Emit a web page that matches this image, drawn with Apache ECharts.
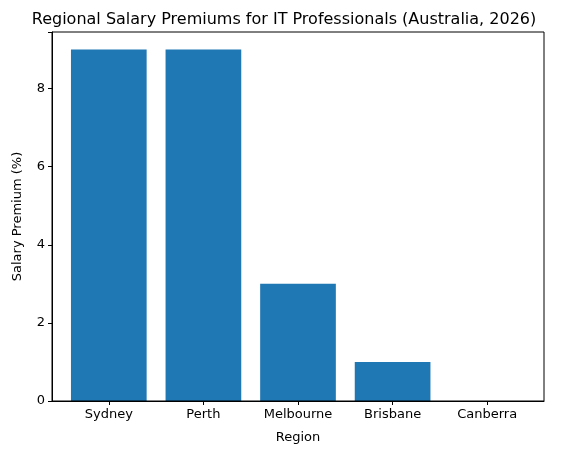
<!DOCTYPE html><html><head><meta charset="utf-8"><script src="https://cdn.jsdelivr.net/npm/echarts@6/dist/echarts.min.js"></script></head><body style="margin:0"><div id="c" style="width:568px;height:455px"></div><script>
const categories=['Sydney','Perth','Melbourne','Brisbane','Canberra'];
const values=[9,9,3,1,0];
const yTicks=[0,2,4,6,8];
const F='DejaVu Sans';
const ch=echarts.init(document.getElementById('c'));
ch.setOption({animation:false,
title:{text:'Regional Salary Premiums for IT Professionals (Australia, 2026)',left:'center',top:7,textStyle:{fontFamily:F,fontSize:16,fontWeight:'normal',color:'#000'}},
grid:[{left:52,right:24,top:32,bottom:54},{left:61.5,right:33.5,top:32,bottom:54}],
xAxis:[{gridIndex:0,type:'value',min:0,max:1,axisLine:{show:true,lineStyle:{color:'#000'}},axisTick:{show:false},axisLabel:{show:false},splitLine:{show:false}},
{gridIndex:1,type:'category',data:categories,axisLine:{show:false},axisTick:{show:true,alignWithLabel:true,inside:false,length:4,lineStyle:{color:'#000'}},axisLabel:{fontFamily:F,fontSize:13,color:'#000',margin:7},name:'Region',nameLocation:'middle',nameGap:30,nameTextStyle:{fontFamily:F,fontSize:13,color:'#000'}}],
yAxis:[{gridIndex:0,type:'value',min:0,max:9.45,interval:2,axisLine:{show:true,lineStyle:{color:'#000'}},axisTick:{show:true,length:4,lineStyle:{color:'#000'}},axisLabel:{fontFamily:F,fontSize:13,color:'#000',margin:7,formatter:v=>yTicks.includes(v)?String(v):''},splitLine:{show:false},name:'Salary Premium (%)',nameLocation:'middle',nameGap:28,nameTextStyle:{fontFamily:F,fontSize:13,color:'#000'}},
{gridIndex:1,type:'value',min:0,max:9.45,show:false}],
graphic:[{type:'rect',shape:{x:52,y:32,width:492,height:369},style:{fill:'none',stroke:'#000',lineWidth:1},z:100}],
series:[{type:'bar',xAxisIndex:1,yAxisIndex:1,data:values,barCategoryGap:'20%',itemStyle:{color:'#1f77b4'}}]});
</script></body></html>
